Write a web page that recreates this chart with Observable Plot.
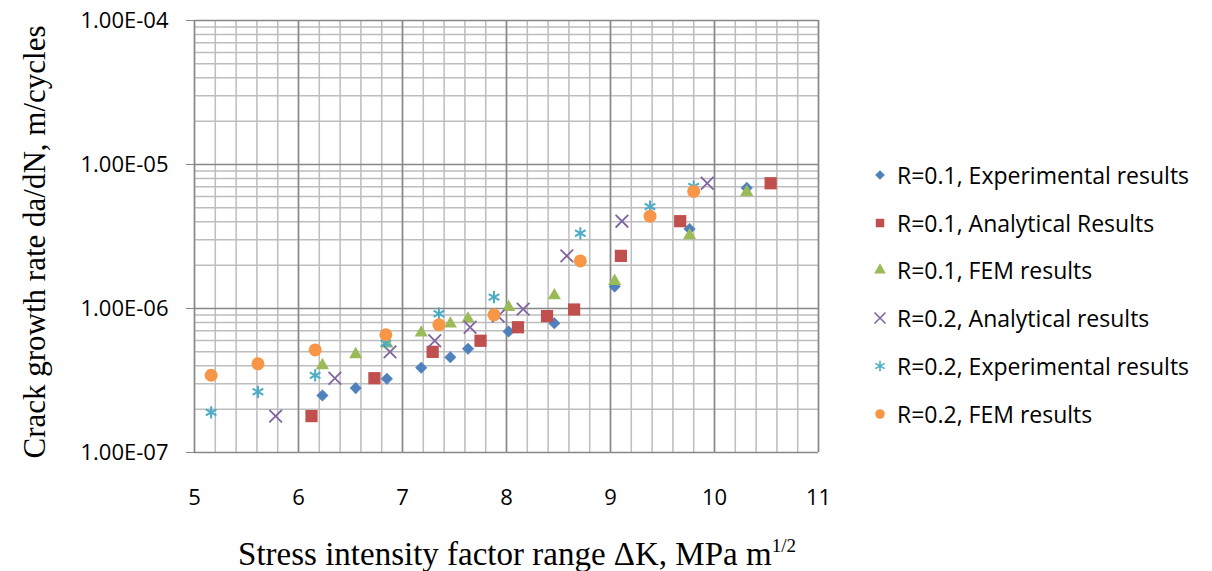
<!DOCTYPE html>
<html><head><meta charset="utf-8">
<script src="https://cdn.jsdelivr.net/npm/d3@7"></script>
<script src="https://cdn.jsdelivr.net/npm/@observablehq/plot@0.6"></script>
<style>
body{margin:0;background:#fff;}
#wrap{position:relative;width:1212px;height:571px;overflow:hidden;background:#fff;}
#wrap svg text{font-size:22px !important;font-family:"Open Sans",sans-serif !important;}
#ylab{position:absolute;left:35px;top:242px;transform:translate(-50%,-50%) rotate(-90deg);font-family:"Liberation Serif","Times New Roman",serif;font-size:31px;white-space:nowrap;color:#000;}
#xlab{position:absolute;left:517px;top:554px;transform:translate(-50%,-50%);font-family:"Liberation Serif","Times New Roman",serif;font-size:33px;white-space:nowrap;color:#000;}
#xlab sup{font-size:19px;vertical-align:0;position:relative;top:-13px;}
.leg{position:absolute;left:873px;height:24px;display:flex;align-items:center;font-family:"Open Sans",sans-serif;font-size:23px;color:#000;white-space:nowrap;}
.leg svg{margin-right:10px;}
</style></head><body><div id="wrap"></div>
<script>
// ---- data ----
const r01ExpK    = [6.23, 6.55, 6.85, 7.18, 7.46, 7.63, 8.02, 8.46, 9.04, 9.76, 10.31];
const r01ExpRate = [2.49e-7, 2.80e-7, 3.25e-7, 3.88e-7, 4.59e-7, 5.25e-7, 6.92e-7, 7.90e-7, 1.42e-6, 3.57e-6, 6.88e-6];

const r01AnaK    = [6.125, 6.73, 7.29, 7.75, 8.11, 8.39, 8.65, 9.10, 9.67, 10.54];
const r01AnaRate = [1.79e-7, 3.28e-7, 5.00e-7, 5.97e-7, 7.41e-7, 8.85e-7, 9.84e-7, 2.32e-6, 4.04e-6, 7.41e-6];

const r01FemK    = [6.23, 6.55, 6.85, 7.18, 7.46, 7.63, 8.02, 8.46, 9.04, 9.76, 10.31];
const r01FemRate = [4.02e-7, 4.80e-7, 5.69e-7, 6.78e-7, 7.83e-7, 8.48e-7, 1.02e-6, 1.23e-6, 1.55e-6, 3.21e-6, 6.42e-6];

const r02AnaK    = [5.78, 6.35, 6.88, 7.31, 7.65, 7.92, 8.16, 8.58, 9.11, 9.93];
const r02AnaRate = [1.79e-7, 3.28e-7, 5.00e-7, 5.97e-7, 7.41e-7, 8.85e-7, 9.90e-7, 2.32e-6, 4.04e-6, 7.41e-6];

const r02ExpK    = [5.16, 5.61, 6.16, 6.84, 7.35, 7.88, 8.71, 9.38, 9.80];
const r02ExpRate = [1.90e-7, 2.64e-7, 3.43e-7, 5.74e-7, 9.20e-7, 1.20e-6, 3.33e-6, 5.10e-6, 7.03e-6];

const r02FemK    = [5.16, 5.61, 6.16, 6.84, 7.35, 7.88, 8.71, 9.38, 9.80];
const r02FemRate = [3.44e-7, 4.13e-7, 5.16e-7, 6.57e-7, 7.70e-7, 9.04e-7, 2.14e-6, 4.38e-6, 6.50e-6];

const seriesNames = [
  "R=0.1, Experimental results",
  "R=0.1, Analytical Results",
  "R=0.1, FEM results",
  "R=0.2, Analytical results",
  "R=0.2, Experimental results",
  "R=0.2, FEM results"
];

const xTicks = [5, 6, 7, 8, 9, 10, 11];
const xTickLabels = ["5", "6", "7", "8", "9", "10", "11"];
const yTicks = [1e-7, 1e-6, 1e-5, 1e-4];
const yTickLabels = ["1.00E-07", "1.00E-06", "1.00E-05", "1.00E-04"];

// ---- styling ----
const colors = ["#4F81BD", "#C0504D", "#9BBB59", "#8064A2", "#4BACC6", "#F79646"];
const majorGrid = "#878787", minorGrid = "#bdbdbd";

// minor grid positions
const xMinor = d3.range(5, 11.0001, 0.2).map(v => +v.toFixed(1));
const yMinor = [];
for (const d of yTicks.slice(0, 3)) for (let m = 2; m <= 9; m++) yMinor.push(d * m);

const rows = (ks, rs) => ks.map((k, i) => ({k, rate: rs[i]}));

const chart = Plot.plot({
  width: 1212, height: 571,
  marginLeft: 194, marginRight: 394, marginTop: 20, marginBottom: 119,
  x: {domain: [5, 11]},
  y: {type: "log", domain: [1e-7, 1e-4]},
  style: {fontFamily: "'Open Sans', sans-serif", fontSize: "22px", color: "#000", background: "#fff"},
  marks: [
    Plot.gridX(xMinor, {stroke: minorGrid, strokeOpacity: 1, strokeWidth: 1.5}),
    Plot.gridY(yMinor, {stroke: minorGrid, strokeOpacity: 1, strokeWidth: 1.5}),
    Plot.gridX(xTicks, {stroke: majorGrid, strokeOpacity: 1, strokeWidth: 1.5}),
    Plot.gridY(yTicks, {stroke: majorGrid, strokeOpacity: 1, strokeWidth: 1.5}),
    Plot.axisY(yTicks, {tickSize: 8, tickPadding: 18, stroke: majorGrid, fill: "#000", fontSize: 22,
      tickFormat: (d) => yTickLabels[yTicks.indexOf(d)], label: null}),
    Plot.axisX(xTicks, {tickSize: 0, tickPadding: 37, fill: "#000", fontSize: 22,
      tickFormat: d => xTickLabels[xTicks.indexOf(d)], label: null}),
    Plot.dot(rows(r01ExpK, r01ExpRate), {x: "k", y: "rate", symbol: "diamond2", r: 5.2, fill: colors[0], stroke: colors[0], strokeWidth: 0.5}),
    Plot.dot(rows(r01AnaK, r01AnaRate), {x: "k", y: "rate", symbol: "square", r: 6.9, fill: colors[1]}),
    Plot.dot(rows(r01FemK, r01FemRate), {x: "k", y: "rate", symbol: "triangle", r: 4.9, fill: colors[2]}),
    Plot.dot(rows(r02AnaK, r02AnaRate), {x: "k", y: "rate", symbol: "times", r: 5.8, stroke: colors[3], strokeWidth: 1.8}),
    Plot.dot(rows(r02ExpK, r02ExpRate), {x: "k", y: "rate", symbol: "asterisk", r: 5.8, stroke: colors[4], strokeWidth: 2}),
    Plot.dot(rows(r02FemK, r02FemRate), {x: "k", y: "rate", symbol: "circle", r: 6.5, fill: colors[5]})
  ]
});

const wrap = document.getElementById("wrap");
chart.style.position = "absolute";
chart.style.left = "0";
chart.style.top = "0";
wrap.appendChild(chart);

// axis titles
const ylab = document.createElement("div");
ylab.id = "ylab";
ylab.textContent = "Crack growth rate da/dN, m/cycles";
wrap.appendChild(ylab);
const xlab = document.createElement("div");
xlab.id = "xlab";
xlab.innerHTML = "Stress intensity factor range ΔK, MPa m<sup>1/2</sup>";
wrap.appendChild(xlab);

// legend
const legSymbols = [d3.symbolDiamond2, d3.symbolSquare, d3.symbolTriangle, d3.symbolTimes, d3.symbolAsterisk, d3.symbolCircle];
const legSizes = [60, 72, 60, 80, 80, 72];
const legFilled = [true, true, true, false, false, true];
const legTop = [175, 223, 270, 318, 366, 414];
seriesNames.forEach((name, i) => {
  const div = document.createElement("div");
  div.className = "leg";
  div.style.top = (legTop[i] - 12) + "px";
  const path = d3.symbol(legSymbols[i], legSizes[i])();
  const paint = legFilled[i] ? `fill="${colors[i]}"` : `fill="none" stroke="${colors[i]}" stroke-width="1.6"`;
  div.innerHTML = `<svg width="14" height="14" viewBox="-7 -7 14 14"><path d="${path}" ${paint}/></svg><span>${name}</span>`;
  wrap.appendChild(div);
});
</script>
</body></html>
